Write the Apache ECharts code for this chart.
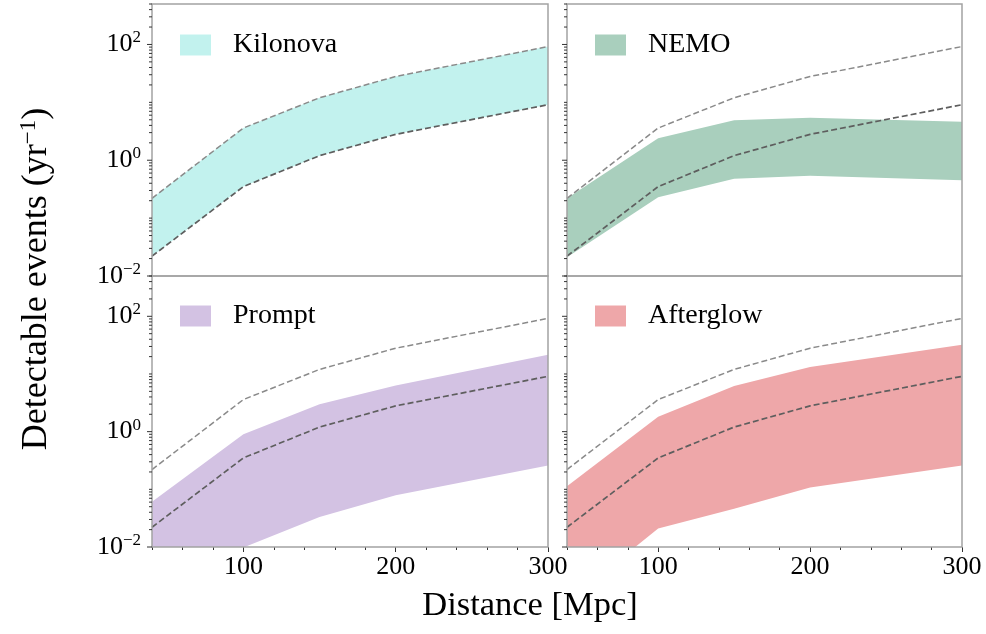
<!DOCTYPE html>
<html>
<head>
<meta charset="utf-8">
<script src="https://cdn.jsdelivr.net/npm/echarts@6/dist/echarts.min.js"></script>
<style>
html,body{margin:0;padding:0;background:#ffffff;}
#chart{width:986px;height:634px;}
</style>
</head>
<body>
<div id="chart"></div>
<script>
// ---------------- data ----------------
const distances = [40, 100, 150, 200, 300];

// reference dashed envelopes (same in every panel)
const refUpper = [0.22, 3.6, 12, 28, 92];
const refLower = [0.022, 0.35, 1.2, 2.8, 9.1];

const kilonovaUpper = [0.22, 3.6, 12, 28, 92];
const kilonovaLower = [0.022, 0.35, 1.2, 2.8, 9.1];

const nemoUpper = [0.22, 2.4, 4.9, 5.4, 4.6];
const nemoLower = [0.021, 0.23, 0.48, 0.54, 0.45];

const promptUpper = [0.061, 0.9, 3.0, 6.3, 21.5];
const promptLower = [0.0006, 0.0098, 0.033, 0.079, 0.26];

const afterglowUpper = [0.113, 1.82, 6.2, 13.2, 32];
const afterglowLower = [0.0011, 0.021, 0.046, 0.108, 0.26];

const panelNames = ['Kilonova', 'NEMO', 'Prompt', 'Afterglow'];

const xTickLabels = [100, 200, 300];
const xMinorTicks = [40, 60, 80, 120, 140, 160, 180, 220, 240, 260, 280];
const yMajorTicks = [0.01, 1, 100];
const yMinorTicks = [0.02, 0.03, 0.04, 0.05, 0.06, 0.07, 0.08, 0.09,
                     0.1, 0.2, 0.3, 0.4, 0.5, 0.6, 0.7, 0.8, 0.9,
                     2, 3, 4, 5, 6, 7, 8, 9,
                     10, 20, 30, 40, 50, 60, 70, 80, 90,
                     200, 300, 400, 500];

// ---------------- styling / layout ----------------
const FONT = 'Liberation Serif';
const fillColors = ['#c2f2ee', '#a9cfbd', '#d3c2e3', '#eea7a9'];
const panelFills = [
  [kilonovaLower, kilonovaUpper],
  [nemoLower, nemoUpper],
  [promptLower, promptUpper],
  [afterglowLower, afterglowUpper]
];
const gridRects = [
  {left: 152, top: 4, width: 396, height: 272},
  {left: 567, top: 4, width: 395, height: 272},
  {left: 152, top: 276, width: 396, height: 271},
  {left: 567, top: 276, width: 395, height: 271}
];
const X_MIN = 40, X_MAX = 300, Y_MIN = 0.01, Y_MAX = 500;

const grid = [], xAxis = [], yAxis = [], series = [], legend = [];

function supLabel(v) {
  const e = Math.round(Math.log10(v));
  if (Math.abs(v - Math.pow(10, e)) > 1e-9 * Math.max(1, v) || e % 2 !== 0) return '';
  return '{b|10}{s|' + (e < 0 ? '\u2212' + (-e) : e) + '}';
}

gridRects.forEach((r, i) => {
  const isBottom = i >= 2;
  const isLeft = i % 2 === 0;
  grid.push(Object.assign({
    show: true, borderColor: '#a3a3a3', borderWidth: 1.5,
    backgroundColor: 'transparent', containLabel: false, z: 10
  }, r));

  // main x axis
  xAxis.push({
    type: 'value', gridIndex: i, min: X_MIN, max: X_MAX, position: 'bottom',
    axisLine: {show: false}, splitLine: {show: false},
    axisTick: {show: isBottom, customValues: xTickLabels, length: 5,
               lineStyle: {color: '#333', width: 1}},
    axisLabel: {show: isBottom, customValues: xTickLabels, margin: 7,
                fontSize: 26, fontFamily: FONT, color: '#000'}
  });
  // minor x ticks
  xAxis.push({
    type: 'value', gridIndex: i, min: X_MIN, max: X_MAX, position: 'bottom',
    axisLine: {show: false}, splitLine: {show: false},
    axisTick: {show: isBottom, customValues: xMinorTicks, length: 3,
               lineStyle: {color: '#333', width: 1}},
    axisLabel: {show: false}
  });

  yAxis.push({
    type: 'log', logBase: 10, gridIndex: i, min: Y_MIN, max: Y_MAX,
    axisLine: {show: false}, splitLine: {show: false}, axisTick: {show: false},
    minorTick: {show: false},
    axisLabel: {
      show: isLeft, margin: 11, formatter: supLabel,
      rich: {
        b: {fontSize: 26, fontFamily: FONT, color: '#000', lineHeight: 30},
        s: {fontSize: 17, fontFamily: FONT, color: '#000', lineHeight: 17, verticalAlign: 'top'}
      }
    }
  });

  const xi = 2 * i;
  const lowArr = panelFills[i][0], upArr = panelFills[i][1];

  // filled band
  series.push({
    type: 'custom', name: panelNames[i], xAxisIndex: xi, yAxisIndex: i,
    clip: true, silent: true, z: 2,
    itemStyle: {color: fillColors[i]},
    data: distances.map((d, k) => [d, lowArr[k], upArr[k]]),
    encode: {x: 0, y: [1, 2]},
    renderItem: function (params, api) {
      if (params.dataIndexInside !== 0) return null;
      const n = params.dataInsideLength;
      const pts = [];
      for (let k = 0; k < n; k++) pts.push(api.coord([api.value(0, k), api.value(2, k)]));
      for (let k = n - 1; k >= 0; k--) pts.push(api.coord([api.value(0, k), api.value(1, k)]));
      return {type: 'polygon', shape: {points: pts}, style: {fill: fillColors[i], stroke: null}};
    }
  });

  // dashed reference lines
  series.push({
    type: 'line', xAxisIndex: xi, yAxisIndex: i, symbol: 'none', silent: true, z: 5,
    data: distances.map((d, k) => [d, refUpper[k]]),
    lineStyle: {type: [6, 3], width: 1.5, color: '#8a8a8a'}
  });
  series.push({
    type: 'line', xAxisIndex: xi, yAxisIndex: i, symbol: 'none', silent: true, z: 5,
    data: distances.map((d, k) => [d, refLower[k]]),
    lineStyle: {type: [6, 3], width: 1.7, color: '#5e5e5e'}
  });

  // y-axis ticks (major + minor), placed with the log axis scale
  const tickVals = yMajorTicks.concat(yMinorTicks);
  series.push({
    type: 'custom', xAxisIndex: xi, yAxisIndex: i, clip: false, silent: true, z: 11,
    data: tickVals.map(v => [X_MIN, v]),
    encode: {x: 0, y: 1},
    renderItem: function (params, api) {
      const v = api.value(1);
      const p = api.coord([api.value(0), v]);
      const len = yMajorTicks.indexOf(v) >= 0 ? 5 : 3;
      return {type: 'line', shape: {x1: p[0] - len, y1: p[1], x2: p[0], y2: p[1]},
              style: {stroke: '#333', lineWidth: 1}};
    }
  });

  legend.push({
    data: [{name: panelNames[i], icon: 'rect'}],
    left: r.left + 23, top: r.top + (isBottom ? 21 : 22),
    itemWidth: 31, itemHeight: 21, selectedMode: false,
    textStyle: {fontSize: 28, fontFamily: FONT, color: '#000', lineHeight: 21, padding: [0, 0, 0, 17]}
  });
});

const chart = echarts.init(document.getElementById('chart'), null, {renderer: 'canvas'});
chart.setOption({
  animation: false,
  backgroundColor: '#ffffff',
  grid, xAxis, yAxis, series, legend,
  graphic: [
    {
      type: 'text', x: 37, y: 279, rotation: Math.PI / 2, silent: true,
      style: {
        text: '{m|Detectable events (yr}{s|\u22121}{m|)}',
        align: 'center', verticalAlign: 'middle',
        rich: {
          m: {fontSize: 36, fontFamily: FONT, fill: '#000', lineHeight: 40},
          s: {fontSize: 23, fontFamily: FONT, fill: '#000', lineHeight: 23, verticalAlign: 'top'}
        }
      }
    },
    {
      type: 'text', x: 530, y: 606, silent: true,
      style: {text: 'Distance [Mpc]', fontSize: 34.5, fontFamily: FONT, fill: '#000',
              align: 'center', verticalAlign: 'middle'}
    }
  ]
});
</script>
</body>
</html>
